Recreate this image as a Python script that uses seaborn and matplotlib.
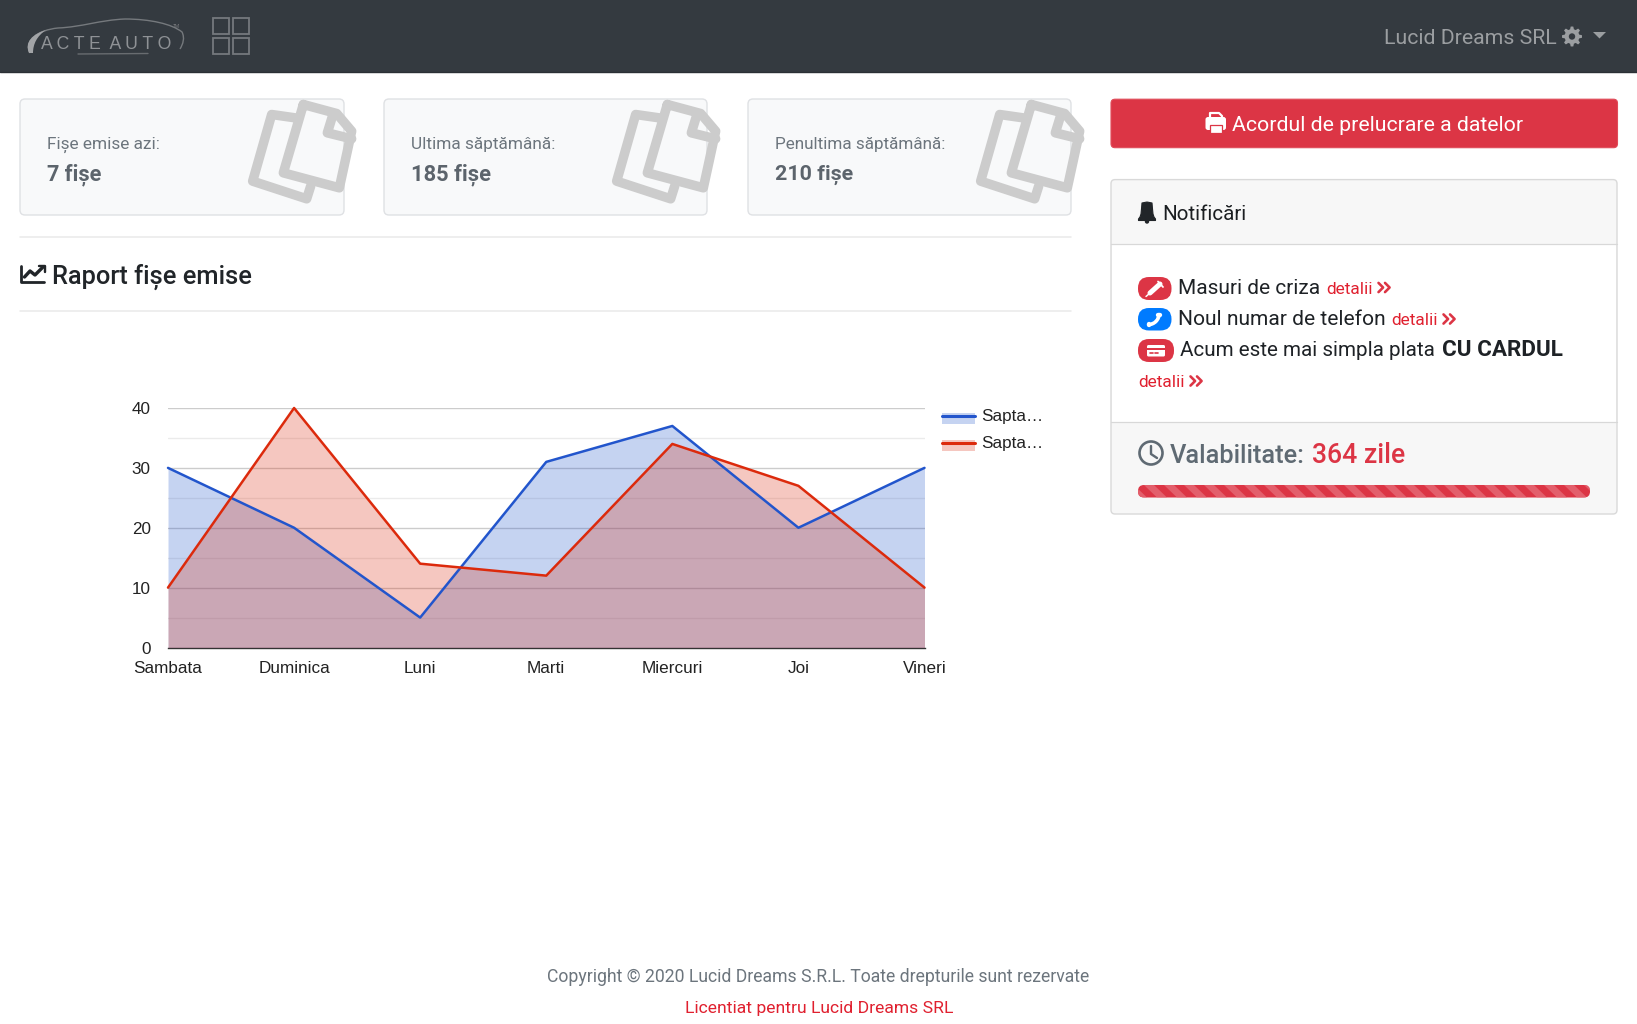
import numpy as np
import pandas as pd
import matplotlib
matplotlib.use("Agg")
import matplotlib.pyplot as plt
import seaborn as sns
from matplotlib.patches import FancyBboxPatch, Rectangle, Polygon, Circle, PathPatch, Wedge
from matplotlib.path import Path
from matplotlib.lines import Line2D
from matplotlib.legend_handler import HandlerBase

# ---------- chart data ----------
days = ["Sambata", "Duminica", "Luni", "Marti", "Miercuri", "Joi", "Vineri"]
week_blue = [30, 20, 5, 31, 37, 20, 30]
week_red = [10, 40, 14, 12, 34, 27, 10]
series_names = ["Sapta\u2026 ", "Sapta\u2026"]
major_ticks = [0, 10, 20, 30, 40]
minor_ticks = [5, 15, 25, 35]
BLUE, RED = "#2255cc", "#dc2a0c"

sns.set_theme(style="white")
UIFONT = ["Roboto", "DejaVu Sans"]
plt.rcParams["font.family"] = UIFONT

W, H = 1637, 1024
fig = plt.figure(figsize=(W / 100, H / 100), dpi=100, facecolor="white")
ui = fig.add_axes([0, 0, 1, 1])
ui.set_xlim(0, W)
ui.set_ylim(H, 0)
ui.axis("off")
renderer = fig.canvas.get_renderer()


def T(x, base, s, width, color, weight="normal", family=None):
    t = ui.text(x, base, s, fontsize=10, color=color, weight=weight, ha="left", va="baseline",
                family=family if family else UIFONT)
    w = t.get_window_extent(renderer).width
    t.set_fontsize(10 * width / w)
    return t


def RR(x0, y0, x1, y1, r, fc, ec="none", lw=0, z=1):
    p = FancyBboxPatch((x0, y0), x1 - x0, y1 - y0, boxstyle=f"round,pad=0,rounding_size={r}",
                       fc=fc, ec=ec, lw=lw, zorder=z)
    ui.add_patch(p)
    return p


def PL(pts, color, px, closed=False, z=3):
    pts = list(pts)
    if closed:
        pts = pts + [pts[0]]
    xs, ys = zip(*pts)
    ui.plot(xs, ys, color=color, lw=px * 0.72, solid_joinstyle="round",
            solid_capstyle="round", zorder=z)


# ---------- navbar ----------
ui.add_patch(Rectangle((0, 0), W, 72, fc="#343a40", ec="none", zorder=0))
ui.plot([0, W], [72, 72], color="#2b3035", lw=1.0, zorder=1)
# logo
swoosh = Path([(30, 53), (24, 40), (38, 30), (58, 28), (82, 27), (100, 20), (125, 19),
               (150, 19), (172, 24), (182, 32), (185, 38), (183, 44), (180, 49)],
              [Path.MOVETO] + [Path.CURVE4] * 12)
ui.add_patch(PathPatch(swoosh, fc="none", ec="#75797d", lw=1.0, zorder=2))
thick = Path([(29, 53), (24, 42), (33, 34), (46, 30), (37, 36), (33, 44), (33, 53)],
             [Path.MOVETO] + [Path.CURVE4] * 6)
ui.add_patch(PathPatch(thick, fc="#a2a4a7", ec="none", zorder=2))
T(41, 49, "A C T E  A U T O", 131, "#8f9296", family=["Liberation Sans"])
ui.plot([78, 148], [54, 53.5], color="#686c70", lw=1.0, zorder=2)
ui.text(176, 26, "TM", fontsize=3.5, color="#77797c", ha="center", va="center")
for x0, y0 in [(213, 18), (233, 18), (213, 38), (233, 38)]:
    ui.add_patch(Rectangle((x0, y0), 16, 16, fc="none", ec="#75797d", lw=1.3, zorder=2))

T(1384, 44.4, "Lucid Dreams SRL", 172, "#9b9ea1")
# gear
teeth = []
for a in np.linspace(0, 2 * np.pi, 48, endpoint=False):
    r = 10 if int((a / (2 * np.pi)) * 48 + 1.5) % 6 < 3 else 7.4
    teeth.append((1572 + r * np.cos(a), 36.5 + r * np.sin(a)))
ui.add_patch(Polygon(teeth, fc="#9b9ea1", ec="none", zorder=3))
ui.add_patch(Circle((1572, 36.5), 3.2, fc="#343a40", ec="none", zorder=4))
ui.add_patch(Polygon([(1593, 32), (1606, 32), (1599.5, 38.5)], fc="#9b9ea1", ec="none", zorder=3))

# ---------- stat cards ----------
cards = [(20, 344, "Fi\u0219e emise azi:", 113.5, "7 fi\u0219e", 55),
         (384, 707, "Ultima s\u0103pt\u0103m\u00e2n\u0103:", 144, "185 fi\u0219e", 80),
         (748, 1071, "Penultima s\u0103pt\u0103m\u00e2n\u0103:", 171, "210 fi\u0219e", 78.5)]
for x0, x1, lab, lw_, val, vw in cards:
    RR(x0, 99, x1, 215, 5, "#f8f9fa", "#dfe1e4", 1.0)
    T(x0 + 27, 149, lab, lw_, "#6c757d")
    T(x0 + 27, 180, val, vw, "#5c646c", weight="bold")
    dx = x0 - 20
    off = lambda p: (240 + dx + p[0] / 3, 89.5 + p[1] / 3)
    back = [(165, 85), (95, 75), (38, 275), (200, 328), (212, 290)]
    front = [(190, 45), (290, 72), (335, 125), (298, 295), (130, 250), (190, 45)]
    fold = [(278, 78), (262, 130), (335, 148)]
    for poly in (back, front, fold):
        PL([off(p) for p in poly], "#cccccc", 9.5, z=4)

ui.plot([20, 1071], [237, 237], color="#e9e9e9", lw=1.1, zorder=1)
ui.plot([20, 1071], [311, 311], color="#e9e9e9", lw=1.1, zorder=1)
T(52, 283.5, "Raport fi\u0219e emise", 200, "#212529", weight="medium")
# chart-line icon
PL([(21, 266), (21, 282), (44, 282)], "#212529", 2.8)
PL([(24.5, 277), (30, 271), (35, 275), (43, 267)], "#212529", 3.4)
PL([(38.5, 266), (44.5, 266), (44.5, 272)], "#212529", 2.4)

# ---------- right column ----------
RR(1111, 99.2, 1617.5, 147.7, 4, "#dc3545", "#e04b59", 0.8)
T(1232, 131, "Acordul de prelucrare a datelor", 290, "white")
# printer
RR(1205.5, 117, 1226, 130, 2.5, "white", z=3)
PL([(1210, 118), (1210, 113), (1219, 113), (1222, 116), (1222, 118)], "white", 2.2, z=3)
ui.add_patch(Rectangle((1209.5, 125), 12.5, 8, fc="white", ec="#dc3545", lw=0.9, zorder=4))

RR(1111, 179.6, 1617, 514, 4, "#f7f7f7", "#d9d9d9", 1.0)
ui.add_patch(Rectangle((1111.6, 243.8), 504.8, 178, fc="white", ec="none", zorder=2))
ui.plot([1111, 1617], [243.8, 243.8], color="#d8d8d8", lw=0.9, zorder=3)
ui.plot([1111, 1617], [421.8, 421.8], color="#d8d8d8", lw=0.9, zorder=3)
T(1162, 220, "Notific\u0103ri", 84, "#1b1e21")
# bell
bell = Path([(1147, 202), (1142, 203), (1141.5, 209), (1141, 214), (1140, 217), (1138.5, 219), (1138.5, 220.5),
             (1155.5, 220.5), (1155.5, 219), (1154, 217), (1153, 214), (1152.5, 209), (1152, 203), (1147, 202)],
            [Path.MOVETO] + [Path.LINETO] * 13)
ui.add_patch(PathPatch(bell, fc="#212529", ec="#212529", lw=0.8, joinstyle="round", zorder=3))
ui.add_patch(Circle((1147, 221.5), 2.2, fc="#212529", ec="none", zorder=3))

# badges
RR(1138, 277, 1171.5, 300, 11, "#dc3545", z=3)
RR(1138, 308, 1171.5, 330.5, 11, "#007bff", z=3)
RR(1138, 339, 1174, 362, 11, "#dc3545", z=3)
# syringe
PL([(1150, 293), (1160, 284)], "white", 5, z=4)
PL([(1146, 296.5), (1150, 293)], "white", 1.5, z=4)
PL([(1158, 281.5), (1163, 287)], "white", 1.8, z=4)
# phone
ui.add_patch(Wedge((1148, 313.5), 13, 0, 90, width=3.6, fc="white", ec="none", zorder=4))
PL([(1158, 315), (1160, 315)], "white", 4.4, z=4)
PL([(1149, 323.5), (1149, 325)], "white", 4.4, z=4)
# card
RR(1147, 345, 1165, 356.5, 1.5, "white", z=4)
ui.add_patch(Rectangle((1147, 348), 18, 2, fc="#dc3545", ec="none", zorder=5))
ui.plot([1149.5, 1152.5], [353, 353], color="#dc3545", lw=1.2, zorder=5)
ui.plot([1154.5, 1158], [353, 353], color="#dc3545", lw=1.2, zorder=5)


def chevrons(x, yc, color="#dc3545"):
    for d in (0, 6.5):
        PL([(x + d, yc - 4.6), (x + d + 4.6, yc), (x + d, yc + 4.6)], color, 2.6, z=4)


DARK, LINK = "#1e2226", "#e0202f"
T(1178.4, 294, "Masuri de criza", 142, DARK)
T(1326, 294, "detalii", 46, LINK)
chevrons(1378.5, 287.5)
T(1178.4, 325, "Noul numar de telefon", 207.5, DARK)
T(1391.5, 325, "detalii", 46, LINK)
chevrons(1443.5, 319)
T(1180.5, 356, "Acum este mai simpla plata", 255.5, DARK)
T(1442.5, 356, "CU CARDUL", 120.5, DARK, weight="bold")
T(1138.4, 387.4, "detalii", 46, LINK)
chevrons(1190.5, 381)

ui.add_patch(Circle((1151, 453), 11.5, fc="none", ec="#5f6a73", lw=1.9, zorder=4))
PL([(1151, 446), (1151, 454), (1157, 458)], "#5f6a73", 2.4, z=4)
T(1170, 462.8, "Valabilitate:", 135, "#5f6a73", weight="medium")
T(1312, 462.8, "364 zile", 93, "#dc3545", weight="medium")

bar = RR(1138, 485, 1590, 497.5, 6, "#dc3545", z=3)
for sx in np.arange(1124, 1590, 20):
    st = Polygon([(sx, 485), (sx + 10, 485), (sx + 23, 497.5), (sx + 13, 497.5)],
                 fc="#e35f6c", ec="none", zorder=4)
    ui.add_patch(st)
    st.set_clip_path(bar)

T(547, 982.5, "Copyright \u00a9 2020 Lucid Dreams S.R.L. Toate drepturile sunt rezervate", 543, "#6c757d")
T(685, 1013.5, "Licentiat pentru Lucid Dreams SRL", 267, LINK)

# ---------- the chart ----------
x0, x1, ytop, ybot = 168, 924.5, 408, 647.5
ax = fig.add_axes([x0 / W, 1 - ybot / H, (x1 - x0) / W, (ybot - ytop) / H], facecolor="none")
df = pd.DataFrame({"Zi": days * 2,
                   "Fise": week_blue + week_red,
                   "Serie": [series_names[0]] * len(days) + [series_names[1]] * len(days)})
sns.lineplot(data=df, x="Zi", y="Fise", hue="Serie", palette=[BLUE, RED], lw=1.8, sort=False,
             legend=False, ax=ax, clip_on=False, zorder=5)
ax.fill_between(days, week_blue, 0, color=BLUE, alpha=0.26, lw=0, zorder=3)
ax.fill_between(days, week_red, 0, color=RED, alpha=0.26, lw=0, zorder=4)
ax.set_xlim(0, len(days) - 1)
ax.set_ylim(major_ticks[0], major_ticks[-1])
ax.set_xlabel("")
ax.set_ylabel("")
ax.set_yticks(major_ticks)
ax.set_yticks(minor_ticks, minor=True)
ax.grid(which="major", axis="y", color="#cccccc", lw=1.0, zorder=1)
ax.grid(which="minor", axis="y", color="#ebebeb", lw=1.0, zorder=1)
ax.grid(which="major", axis="x", visible=False)
ax.set_axisbelow(True)
for side in ("top", "left", "right"):
    ax.spines[side].set_visible(False)
ax.spines["bottom"].set_color("#333333")
ax.spines["bottom"].set_linewidth(1.0)
ax.tick_params(axis="both", which="both", length=0)
ax.tick_params(axis="y", pad=12.5)
ax.tick_params(axis="x", pad=9.8)
for lab in ax.get_xticklabels() + ax.get_yticklabels():
    lab.set_family(["Liberation Sans"])
    lab.set_fontsize(12.3)
    lab.set_color("#222222")


class AreaHandler(HandlerBase):
    def create_artists(self, legend, orig, xd, yd, w, h, fs, trans):
        c = orig.get_color()
        yl = -yd + h * 0.45
        r = Rectangle((-xd, yl - 6.0), w, 8.0, fc=c, alpha=0.26, lw=0, transform=trans)
        l = Line2D([-xd, -xd + w], [yl, yl], color=c, lw=2.2, transform=trans)
        return [r, l]


lines = ax.get_lines()[:2]
leg = ui.legend(lines, ["Sapta\u2026", "Sapta\u2026"], handler_map={Line2D: AreaHandler()},
                loc="upper left", bbox_to_anchor=(941.5, 409), bbox_transform=ui.transData,
                frameon=False, borderpad=0, borderaxespad=0, handlelength=1.95, handleheight=0.65,
                handletextpad=0.4, labelspacing=0.72,
                prop={"family": "Liberation Sans", "size": 12.3})
for t in leg.get_texts():
    t.set_color("#222222")

fig.savefig("out.png", dpi=100, facecolor="white")
